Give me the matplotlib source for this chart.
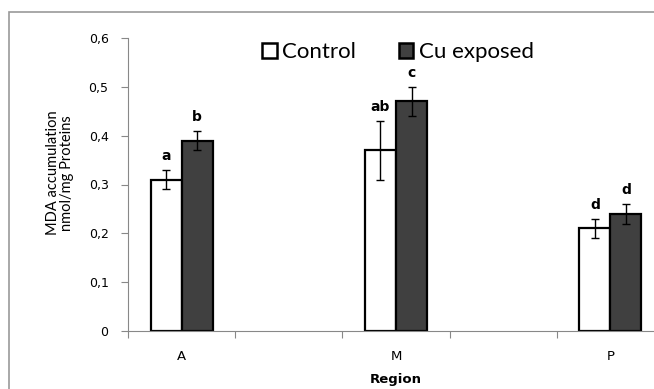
import numpy as np
import matplotlib
matplotlib.use("Agg")
import matplotlib.pyplot as plt
from matplotlib.patches import Patch, Rectangle

# data
regions = ['A', 'M', 'P']
control = [0.31, 0.37, 0.21]
control_err = [0.02, 0.06, 0.02]
cu = [0.39, 0.47, 0.24]
cu_err = [0.02, 0.03, 0.02]
control_letters = ['a', 'ab', 'd']
cu_letters = ['b', 'c', 'd']
yticks = [0, 0.1, 0.2, 0.3, 0.4, 0.5, 0.6]

W, H = 654, 389
fig = plt.figure(figsize=(W / 100, H / 100), dpi=100)
fig.patch.set_facecolor('white')

# outer chart frame (cropped on right and bottom)
fig.patches.append(Rectangle((9 / W, -0.1), 1.2, 1.1 - 12 / H, transform=fig.transFigure,
                             fill=False, edgecolor='#999999', lw=1.2))

ax = fig.add_axes([128 / W, 1 - 331 / H, 536 / W, 293 / H])

# regions sit on every other category slot, with empty slots between
x = np.arange(len(regions)) * 2
bw = 0.29
grey = '#404040'

ax.bar(x - bw / 2, control, bw, color='white', edgecolor='black', lw=1.6, zorder=2)
ax.bar(x + bw / 2, cu, bw, color=grey, edgecolor='black', lw=1.6, zorder=2)
ax.errorbar(x - bw / 2, control, yerr=control_err, fmt='none', ecolor='black',
            elinewidth=1, capsize=3, capthick=1, zorder=3)
ax.errorbar(x + bw / 2, cu, yerr=cu_err, fmt='none', ecolor='black',
            elinewidth=1, capsize=3, capthick=1, zorder=3)

for xi, v, e, t in zip(x - bw / 2, control, control_err, control_letters):
    ax.annotate(t, (xi, v + e), xytext=(0, 5), textcoords='offset points',
                ha='center', va='bottom', fontsize=10, fontweight='bold')
for xi, v, e, t in zip(x + bw / 2, cu, cu_err, cu_letters):
    ax.annotate(t, (xi, v + e), xytext=(0, 5), textcoords='offset points',
                ha='center', va='bottom', fontsize=10, fontweight='bold')

ax.set_xlim(-0.5, x[-1] + 0.5)
ax.set_ylim(0, 0.6)
ax.set_yticks(yticks)
ax.set_yticklabels(['0' if v == 0 else ('%.1f' % v).replace('.', ',') for v in yticks])
ax.set_xticks(x)
ax.set_xticklabels(regions)
ax.set_xticks(np.arange(-0.5, x[-1] + 0.6, 1.0), minor=True)

ax.tick_params(axis='y', length=5, width=0.8, color='#888888', pad=9, labelsize=9)
ax.tick_params(axis='x', which='major', length=0, pad=14, labelsize=9.5)
ax.tick_params(axis='x', which='minor', length=5, width=0.8, color='#888888')

for s in ['top', 'right']:
    ax.spines[s].set_visible(False)
for s in ['left', 'bottom']:
    ax.spines[s].set_color('#888888')
    ax.spines[s].set_linewidth(0.8)

ax.set_ylabel('MDA accumulation\nnmol/mg Proteins', fontsize=10.5, family='Lato',
              linespacing=1.05)
ax.yaxis.set_label_coords(-0.1, 0.54)
ax.set_xlabel('Region', fontsize=9.5, fontweight='bold', labelpad=7)

handles = [Patch(facecolor='white', edgecolor='black', lw=1.8, label='Control'),
           Patch(facecolor=grey, edgecolor='black', lw=1.8, label='Cu exposed')]
fig.legend(handles=handles, loc='center', bbox_to_anchor=(398 / W, 1 - 52 / H),
           ncol=2, frameon=False, handlelength=0.65, handleheight=0.65,
           handletextpad=0.25, columnspacing=1.9, prop={'family': 'Lato', 'size': 16})

fig.savefig('out.png', dpi=100)
